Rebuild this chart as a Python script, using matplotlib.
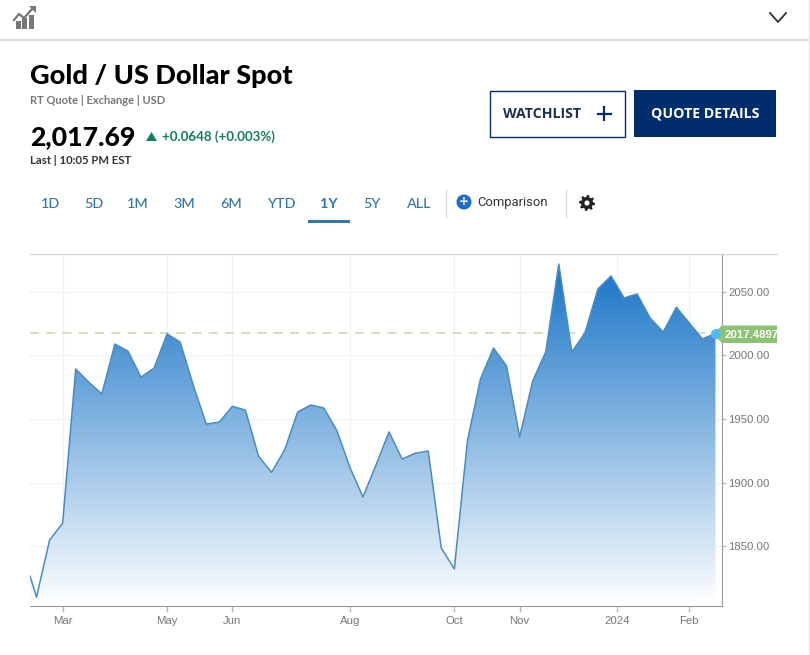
import numpy as np
import matplotlib
matplotlib.use("Agg")
import matplotlib.pyplot as plt
from matplotlib.patches import Polygon, Rectangle, Circle
from matplotlib.colors import LinearSegmentedColormap

# weekly closes, the first one is a partial week
week_pos = [-0.5] + list(range(53))
prices = [1826.4, 1809.8, 1854.7, 1868.0, 1989.4, 1979.0, 1969.7, 2009.0, 2003.5,
          1983.0, 1990.0, 2017.0, 2010.6, 1976.8, 1946.0, 1947.6, 1960.0, 1957.0,
          1920.9, 1908.0, 1925.6, 1955.5, 1961.0, 1958.7, 1941.0, 1912.0, 1888.6,
          1913.8, 1939.8, 1918.5, 1923.0, 1924.8, 1848.4, 1832.0, 1932.7, 1981.5,
          2005.9, 1991.7, 1935.8, 1980.0, 2002.8, 2072.0, 2002.8, 2017.7, 2052.4,
          2062.6, 2045.3, 2048.4, 2029.5, 2018.5, 2038.0, 2025.6, 2013.0, 2017.5]
last_price = 2017.4897

month_pos = [2, 10, 15, 24, 32, 37, 44.45, 50]
month_labels = ["Mar", "May", "Jun", "Aug", "Oct", "Nov", "2024", "Feb"]
price_ticks = [1850, 1900, 1950, 2000, 2050]

ranges = ["1D", "5D", "1M", "3M", "6M", "YTD", "1Y", "5Y", "ALL"]
range_x = [51, 94, 138, 184, 231, 281, 329, 372, 419]

NAVY = "#002d6d"
BLUE = "#2e76ae"
W, H = 810, 655


def pixel_axes(order):
    a = fig.add_axes([0, 0, 1, 1])
    a.set_xlim(0, W)
    a.set_ylim(H, 0)
    a.axis("off")
    a.set_zorder(order)
    return a


fig = plt.figure(figsize=(W / 100, H / 100), dpi=100, facecolor="white")

# page furniture in pixel coordinates
page = pixel_axes(0)

page.plot([0, 809], [40, 40], color="#dcdcdc", lw=1.6)
page.plot([809, 809], [0, H], color="#e6e6e6", lw=1)

# chart icon top left
for x0, top in [(15.5, 21), (22, 18), (28.5, 15)]:
    page.add_patch(Rectangle((x0, top), 5, 29 - top, color="#777777", lw=0))
page.plot([14, 19, 24, 33], [20, 14, 18, 8], color="#777777", lw=1.6)
page.add_patch(Polygon([[29, 6], [36, 6], [36, 13]], color="#777777", lw=0))
# chevron
page.plot([770, 778, 786], [13, 22, 13], color="#333333", lw=1.3)

page.text(30, 75.5, "Gold / US Dollar Spot", family="Lato", weight="black",
          fontsize=19.5, color="black", va="center")
page.text(30, 101, "RT Quote | Exchange | USD", family="Lato", weight="bold",
          fontsize=8, color="#777777", va="center")
page.text(30, 137, "2,017.69", family="Lato", weight="black", fontsize=19.2,
          color="black", va="center")
page.add_patch(Polygon([[146, 141], [157, 141], [151.5, 132]], color="#0d8057", lw=0))
page.text(162, 137, "+0.0648 (+0.003%)", family="Lato", weight="bold", fontsize=9.6,
          color="#0d8057", va="center")
page.text(30, 160.5, "Last | 10:05 PM EST", family="Lato", weight="bold", fontsize=8.2,
          color="#333333", va="center")

# buttons
page.add_patch(Rectangle((489.5, 90.5), 135, 46, fc="white", ec=NAVY, lw=1))
page.text(503, 113.5, "WATCHLIST", family="Open Sans", weight="bold", fontsize=10.2,
          color="#1c2f57", va="center")
page.plot([604, 604], [107, 120], color=NAVY, lw=1.6)
page.plot([597.5, 610.5], [113.5, 113.5], color=NAVY, lw=1.6)
page.add_patch(Rectangle((634, 90), 142, 47, fc=NAVY, ec="none"))
page.text(705, 113.5, "QUOTE DETAILS", family="Open Sans", weight="bold", fontsize=10.2,
          color="white", va="center", ha="center")

# range selector
for label, x in zip(ranges, range_x):
    sel = label == "1Y"
    page.text(x, 203.5, label, family="Lato", weight="bold" if sel else "medium",
              fontsize=10.4, color=BLUE, ha="center", va="center")
page.add_patch(Rectangle((308, 219.5), 42, 3, color=BLUE, lw=0))
page.plot([445.5, 445.5], [190, 217], color="#dddddd", lw=1)
page.plot([565.5, 565.5], [190, 217], color="#dddddd", lw=1)
page.add_patch(Circle((464, 202), 7.5, color="#1a6ccf", lw=0))
page.text(464, 201.7, "+", family="DejaVu Sans", weight="bold", fontsize=8.5,
          color="white", ha="center", va="center")
page.text(477, 202.5, "Comparison", family="Roboto", fontsize=9.4, color="#333333",
          va="center")

# settings gear
angles = np.linspace(0, 2 * np.pi, 48, endpoint=False)
radii = np.where((np.arange(48) % 6) < 3, 8.0, 6.0)
page.add_patch(Polygon(np.column_stack([587 + radii * np.cos(angles), 203 + radii * np.sin(angles)]),
                       color="#222222", lw=0))
page.add_patch(Circle((587, 203), 2.6, color="white", lw=0))

# chart
L, R, T, B = 30, 722, 254, 606
y_low, y_high = 1802.8, 2079.9
ax = fig.add_axes([L / W, 1 - B / H, (R - L) / W, (B - T) / H])
ax.set_zorder(1)
ax.patch.set_alpha(0)

ax.grid(True, color="#f1f1f1", lw=1)
ax.set_axisbelow(True)
ax.set_xticks(month_pos)
ax.set_xticklabels(month_labels)
ax.set_yticks(price_ticks)
ax.set_yticklabels([f"{p:.2f}" for p in price_ticks])
ax.yaxis.tick_right()
ax.tick_params(axis="both", width=1, color="#bbbbbb", labelcolor="#777777",
               labelfontfamily="Liberation Sans", labelsize=8.2)
ax.tick_params(axis="y", length=3, pad=1.5)
ax.tick_params(axis="x", length=4, pad=3.5)
for side in ["left", "top"]:
    ax.spines[side].set_visible(False)
for side in ["right", "bottom"]:
    ax.spines[side].set_color("#999999")

ax.axhline(last_price, color="#c9dfb8", lw=1.3, ls=(0, (5, 4)), zorder=1)

cmap = LinearSegmentedColormap.from_list("fade", ["#1874c6", "#ffffff"])
grad = ax.imshow(np.linspace(0, 1, 256).reshape(-1, 1), cmap=cmap, aspect="auto",
                 extent=[week_pos[0], week_pos[-1], y_low, max(prices)], origin="upper", zorder=2)
verts = [(week_pos[0], y_low)] + list(zip(week_pos, prices)) + [(week_pos[-1], y_low)]
clip = Polygon(verts, closed=True, transform=ax.transData, fc="none", ec="none")
ax.add_patch(clip)
grad.set_clip_path(clip)
ax.plot(week_pos, prices, color="#4a8cc2", lw=1.1, zorder=3)
ax.set_xlim(-0.5, 52.5)
ax.set_ylim(y_low, y_high)

# top rule and last price badge sit over the chart
over = pixel_axes(2)
over.plot([L, 777], [254, 254], color="#d8d8d8", lw=1)
over.add_patch(Polygon([[713, 334], [722, 325.5], [777, 325.5], [777, 343], [722, 343]],
                       color="#8cc274", lw=0))
badge = over.text(725, 334.5, f"{last_price:.4f}", family="Liberation Sans", weight="bold",
                  fontsize=8.2, color="white", va="center")
badge.set_clip_path(Rectangle((713, 325), 64, 19, transform=over.transData))
over.add_patch(Circle((716, 334), 5, color="#4fbdf0", lw=0))

fig.savefig("out.png", dpi=100, facecolor="white")
